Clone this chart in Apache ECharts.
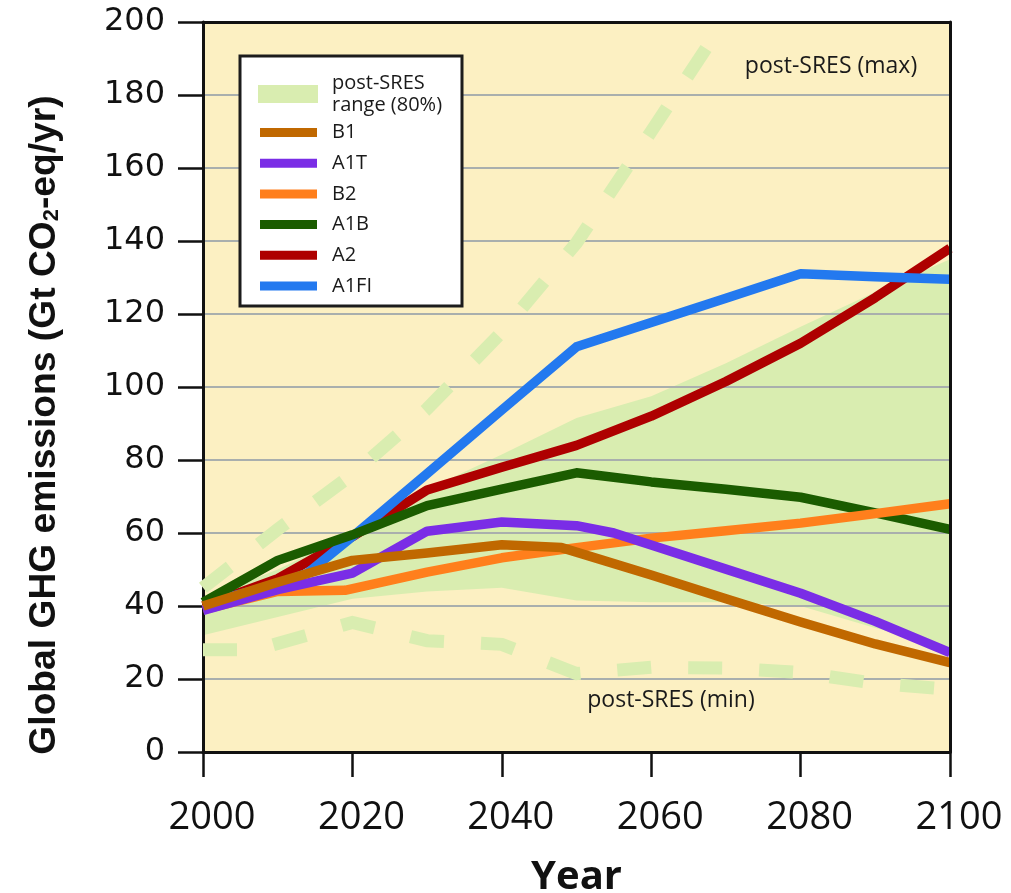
<!DOCTYPE html>
<html>
<head>
<meta charset="utf-8">
<script src="https://cdn.jsdelivr.net/npm/echarts@6/dist/echarts.min.js"></script>
<style>
html,body{margin:0;padding:0;background:#fff;}
#chart{width:1011px;height:893px;}
</style>
</head>
<body>
<div id="chart"></div>
<script>
// ---- data ----
const xTicks = [2000, 2020, 2040, 2060, 2080, 2100];
const yTicks = [0, 20, 40, 60, 80, 100, 120, 140, 160, 180, 200];

const bandYears = [2000, 2010, 2020, 2030, 2040, 2050, 2060, 2070, 2080, 2090, 2100];
const bandLow   = [32, 37, 42, 44, 45, 41.5, 41, 41, 40, 34, 28.5];
const bandHigh  = [42, 50, 60, 72, 81.5, 91.5, 97.5, 106.5, 116.5, 126, 135];

const maxYears = [2000, 2010, 2020, 2030, 2040, 2050, 2060, 2070];
const maxVals  = [45, 61, 76, 94, 115, 139.5, 170, 201];

const minYears = [2000, 2007, 2020, 2030, 2040, 2050, 2060, 2070, 2080, 2090, 2100];
const minVals  = [28, 28, 35.5, 30.5, 29.5, 21.5, 23.2, 23, 21.8, 18.8, 17.2];

const b1Years  = [2000, 2010, 2020, 2030, 2040, 2048, 2060, 2070, 2080, 2090, 2100];
const b1Vals   = [40, 46.5, 52.5, 54.5, 56.8, 56, 48.5, 42, 35.6, 29.6, 24.5];

const a1tYears = [2000, 2010, 2020, 2030, 2040, 2050, 2055, 2060, 2070, 2080, 2090, 2100];
const a1tVals  = [38.8, 44.5, 49, 60.5, 63, 62, 60, 56.7, 50.1, 43.5, 35.8, 27.2];

const b2Years  = [2000, 2010, 2019, 2030, 2040, 2050, 2060, 2070, 2080, 2090, 2100];
const b2Vals   = [39, 44, 44.3, 49.3, 53.2, 56, 58.6, 60.6, 62.7, 65.3, 68];

const a1bYears = [2000, 2010, 2020, 2030, 2040, 2050, 2060, 2070, 2080, 2090, 2100];
const a1bVals  = [41, 52.5, 59.5, 67.5, 72, 76.5, 74, 72, 69.8, 65.5, 61];

const a2Years  = [2000, 2010, 2020, 2030, 2040, 2050, 2060, 2070, 2080, 2090, 2100];
const a2Vals   = [40, 47.5, 59, 71.8, 78, 84, 92, 101.5, 112, 124.5, 138];

const a1fiYears = [2000, 2010, 2014, 2020, 2030, 2040, 2050, 2060, 2070, 2080, 2090, 2100];
const a1fiVals  = [40.5, 46, 49, 59, 76.3, 93.7, 111, 117.7, 124.3, 131, 130.2, 129.5];

const lineNames = ['B1', 'A1T', 'B2', 'A1B', 'A2', 'A1FI'];
const bandName = 'post-SRES range (80%)';

// ---- helpers ----
function pairs(xs, ys) { return xs.map((x, i) => [x, ys[i]]); }

const C = {
  bg: '#fcf0c2', band: '#d9edb0', grid: '#a9afad',
  B1: '#c06800', A1T: '#7a2de6', B2: '#ff7f1c', A1B: '#1b5c00', A2: '#ae0000', A1FI: '#2379ef'
};

// fit the y-axis title to its length in the reference
const titleFamily = '"Liberation Sans Narrow", "Liberation Sans", "DejaVu Sans", sans-serif';
const cv = document.createElement('canvas').getContext('2d');
cv.font = 'bold 40px ' + titleFamily;
const tw = cv.measureText('Global GHG emissions (Gt CO2-eq/yr)').width;
const titleSize = Math.min(42, 40 * 668 / tw);

const chart = echarts.init(document.getElementById('chart'), null, {renderer: 'canvas'});

function lineSeries(name, xs, ys, color) {
  return {
    name: name, type: 'line', data: pairs(xs, ys), z: 3,
    showSymbol: false, symbol: 'none', smooth: false, color: color,
    lineStyle: {color: color, width: 9.5, cap: 'butt', join: 'round'},
    itemStyle: {color: color}, emphasis: {disabled: true}, silent: true
  };
}
function dashSeries(name, xs, ys) {
  return {
    name: name, type: 'line', data: pairs(xs, ys), z: 2,
    showSymbol: false, symbol: 'none', clip: true,
    lineStyle: {color: C.band, width: 13, type: [34, 37], cap: 'butt', join: 'miter'},
    emphasis: {disabled: true}, silent: true
  };
}

const option = {
  animation: false,
  grid: {left: 203, right: 61, top: 22, bottom: 141, show: true, backgroundColor: C.bg, borderWidth: 0,
    containLabel: false, outerBoundsMode: 'none'},
  xAxis: [{
    type: 'value', min: 2000, max: 2100, interval: 20, position: 'bottom', z: 5,
    axisLine: {show: true, onZero: false, lineStyle: {color: '#111', width: 3}},
    axisTick: {show: true, inside: false, length: 25, lineStyle: {color: '#111', width: 2.5}},
    axisLabel: {margin: 47, fontFamily: '"Open Sans", "Liberation Sans", sans-serif', fontSize: 38, color: '#111',
      padding: [0, 0, 0, 18],
      formatter: v => xTicks.includes(v) ? String(v) : ''},
    splitLine: {show: false},
    name: 'Year', nameLocation: 'middle', nameGap: 106,
    nameTextStyle: {fontFamily: '"Open Sans", "Liberation Sans", sans-serif', fontWeight: 'bold', fontSize: 40, color: '#111'}
  }, {
    type: 'value', min: 2000, max: 2100, position: 'top', z: 5,
    axisLine: {show: true, onZero: false, lineStyle: {color: '#111', width: 3}},
    axisTick: {show: false}, axisLabel: {show: false}, splitLine: {show: false}
  }],
  yAxis: [{
    type: 'value', min: 0, max: 200, interval: 20, position: 'left', z: 1.5,
    axisLine: {show: true, onZero: false, lineStyle: {color: '#111', width: 3}},
    axisTick: {show: true, inside: false, length: 25, lineStyle: {color: '#111', width: 2.5}},
    axisLabel: {margin: 38, fontFamily: '"DejaVu Sans", sans-serif', fontSize: 32, color: '#111',
      padding: [6, 0, 0, 0],
      formatter: v => yTicks.includes(v) ? String(v) : ''},
    splitLine: {show: true, lineStyle: {color: C.grid, width: 2}},
    name: 'Global GHG emissions (Gt CO{s|2}-eq/yr)', nameLocation: 'middle', nameGap: 140,
    nameTextStyle: {fontFamily: titleFamily, fontWeight: 'bold', fontSize: titleSize, color: '#111',
      padding: [0, 76, 0, 0],
      rich: {s: {fontFamily: titleFamily, fontWeight: 'bold', fontSize: Math.round(titleSize * 0.6),
        color: '#111', verticalAlign: 'bottom', lineHeight: Math.round(titleSize * 0.75)}}}
  }, {
    type: 'value', min: 0, max: 200, position: 'right', z: 5,
    axisLine: {show: true, onZero: false, lineStyle: {color: '#111', width: 3}},
    axisTick: {show: false}, axisLabel: {show: false}, splitLine: {show: false}
  }],
  legend: [{
    data: [bandName], left: 258, top: 72, orient: 'vertical', padding: 0, z: 20,
    selectedMode: false, icon: 'rect', itemWidth: 60, itemHeight: 18,
    formatter: () => 'post-SRES\nrange (80%)',
    textStyle: {fontFamily: '"Open Sans", sans-serif', fontSize: 20, lineHeight: 22, color: '#1a1a1a', padding: [0, 0, 0, 9]}
  }, {
    data: lineNames, left: 260, top: 122.5, orient: 'vertical', padding: 0, z: 20,
    selectedMode: false, icon: 'rect', itemWidth: 57, itemHeight: 9, itemGap: 10.7,
    textStyle: {fontFamily: '"Open Sans", sans-serif', fontSize: 20, lineHeight: 20, color: '#1a1a1a', padding: [0, 0, 0, 10]}
  }],
  graphic: {elements: [
    {type: 'rect', z: 15, shape: {x: 240, y: 56, width: 222, height: 250},
     style: {fill: '#ffffff', stroke: '#1c1c1c', lineWidth: 3}},
    {type: 'text', z: 15, x: 831, y: 66,
     style: {text: 'post-SRES (max)', fill: '#1a1a1a', font: '23px "Open Sans", sans-serif', textAlign: 'center', textVerticalAlign: 'middle'}},
    {type: 'text', z: 15, x: 671, y: 700,
     style: {text: 'post-SRES (min)', fill: '#1a1a1a', font: '23px "Open Sans", sans-serif', textAlign: 'center', textVerticalAlign: 'middle'}}
  ]},
  series: [
    {
      name: bandName, type: 'custom', z: 1, silent: true, data: [0],
      itemStyle: {color: C.band}, color: C.band, clip: true,
      renderItem: function (params, api) {
        const pts = [];
        for (let i = 0; i < bandYears.length; i++) pts.push(api.coord([bandYears[i], bandHigh[i]]));
        for (let i = bandYears.length - 1; i >= 0; i--) pts.push(api.coord([bandYears[i], bandLow[i]]));
        return {type: 'polygon', shape: {points: pts}, style: {fill: C.band}};
      }
    },
    dashSeries('post-SRES (min)', minYears, minVals),
    dashSeries('post-SRES (max)', maxYears, maxVals),
    lineSeries('A2', a2Years, a2Vals, C.A2),
    lineSeries('A1FI', a1fiYears, a1fiVals, C.A1FI),
    lineSeries('A1B', a1bYears, a1bVals, C.A1B),
    lineSeries('B2', b2Years, b2Vals, C.B2),
    lineSeries('A1T', a1tYears, a1tVals, C.A1T),
    lineSeries('B1', b1Years, b1Vals, C.B1)
  ]
};
chart.setOption(option);
</script>
</body>
</html>
